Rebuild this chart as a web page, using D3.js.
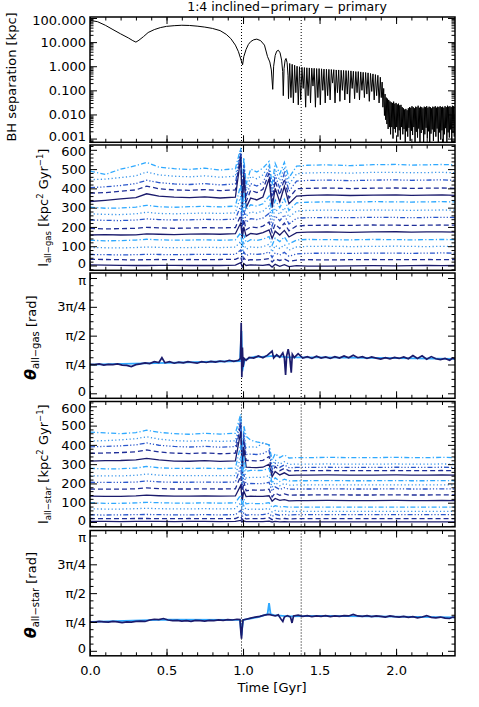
<!DOCTYPE html>
<html>
<head>
<meta charset="utf-8">
<script src="https://cdn.jsdelivr.net/npm/d3@7"></script>
<style>
  body { margin: 0; background: #fff; }
  svg text { font-family: "DejaVu Sans", sans-serif; fill: #000; }
</style>
</head>
<body>
<svg width="479" height="707"></svg>
<script>
// ---- data ----
const title = '1:4 inclined\u2212primary \u2212 primary';
const timeDomain = [0, 2.385];
const timeTicks = [0, 0.5, 1.0, 1.5, 2.0];
const eventTimes = [0.99, 1.38];

// BH separation [kpc] as [time Gyr, kpc]
const sepApproach = [[0,80],[0.05,70],[0.1,50],[0.15,33],[0.2,22],[0.25,15],[0.28,11.5],[0.3,10],[0.32,12],
  [0.35,17],[0.38,25],[0.42,33],[0.46,40],[0.5,45],[0.55,48],[0.6,50],[0.65,49],[0.7,46],[0.75,42],[0.8,37],
  [0.85,30],[0.89,21],[0.92,14],[0.95,7.5],[0.97,4],[0.985,2],[0.997,1.15],[1.005,2.5],[1.02,5],[1.035,8],
  [1.05,10.5],[1.07,12.5],[1.09,13.3],[1.115,11.5],[1.14,7.5],[1.16,2.5],[1.175,1.5],[1.185,0.7],[1.194,0.11],
  [1.2,1.0],[1.21,2.8],[1.22,4.2],[1.231,4.6],[1.242,3.6],[1.252,1.8],[1.259,0.6],[1.263,0.06],[1.268,0.8],
  [1.275,1.8],[1.281,2.1],[1.288,1.4],[1.294,0.4],[1.297,0.045]];
const sepOrbits = [[1.305,1.3],[1.313,0.05],[1.321,1.2],[1.329,0.03],[1.337,1.1],[1.345,0.08],[1.353,1.0],
  [1.361,0.025],[1.369,0.95],[1.377,0.04],[1.385,0.9],[1.393,0.12],[1.401,0.88],[1.409,0.02],[1.417,0.86],
  [1.425,0.06],[1.433,0.85],[1.441,0.03],[1.449,0.83],[1.457,0.15],[1.465,0.82],[1.473,0.02],[1.481,0.8],
  [1.489,0.05],[1.497,0.8],[1.505,0.025],[1.513,0.78],[1.521,0.1],[1.529,0.76],[1.537,0.03],[1.545,0.75],
  [1.553,0.06],[1.561,0.74],[1.569,0.04],[1.577,0.73],[1.585,0.2],[1.593,0.72],[1.601,0.03],[1.609,0.7],
  [1.617,0.08],[1.625,0.7],[1.633,0.035],[1.641,0.68],[1.649,0.1],[1.657,0.67],[1.665,0.04],[1.673,0.66],
  [1.681,0.07],[1.689,0.65],[1.697,0.03],[1.705,0.64],[1.713,0.12],[1.721,0.62],[1.729,0.045],[1.737,0.6],
  [1.745,0.08],[1.753,0.6],[1.761,0.04],[1.769,0.58],[1.777,0.1],[1.785,0.56],[1.793,0.05],[1.801,0.55],
  [1.809,0.07],[1.817,0.53],[1.825,0.035],[1.833,0.5],[1.841,0.09],[1.849,0.48],[1.857,0.04],[1.865,0.45],
  [1.873,0.06],[1.881,0.42],[1.889,0.03],[1.897,0.35],[1.903,0.05],[1.909,0.22],[1.914,0.02],[1.919,0.12]];
const sepBand = [[1.924,0.009],[1.928,0.07],[1.932,0.006],[1.936,0.05],[1.94,0.004],[1.944,0.045],[1.948,0.0025],
  [1.952,0.04],[1.956,0.003],[1.96,0.035],[1.964,0.0015],[1.968,0.032],[1.972,0.003],[1.976,0.03],[1.98,0.001],
  [1.984,0.034],[1.988,0.0025],[1.992,0.028],[1.996,0.0018],[2.0,0.03],[2.004,0.003],[2.008,0.026],[2.012,0.0012],
  [2.016,0.028],[2.02,0.0022],[2.024,0.024],[2.028,0.0009],[2.032,0.025],[2.036,0.003],[2.04,0.02],[2.044,0.0015],
  [2.048,0.018],[2.052,0.0025],[2.056,0.016],[2.06,0.0006],[2.064,0.017],[2.068,0.002],[2.072,0.015],[2.076,0.0012],
  [2.08,0.018],[2.084,0.0028],[2.088,0.02],[2.092,0.0008],[2.096,0.019],[2.1,0.0021],[2.104,0.022],[2.108,0.0014],
  [2.112,0.02],[2.116,0.003],[2.12,0.018],[2.124,0.0005],[2.128,0.021],[2.132,0.0019],[2.136,0.02],[2.14,0.0011],
  [2.144,0.023],[2.148,0.0026],[2.152,0.019],[2.156,0.0007],[2.16,0.021],[2.164,0.0017],[2.168,0.02],[2.172,0.0023],
  [2.176,0.018],[2.18,0.0006],[2.184,0.021],[2.188,0.0015],[2.192,0.02],[2.196,0.0028],[2.2,0.022],[2.204,0.001],
  [2.208,0.019],[2.212,0.002],[2.216,0.021],[2.22,0.0005],[2.224,0.02],[2.228,0.0016],[2.232,0.018],[2.236,0.0024],
  [2.24,0.021],[2.244,0.0008],[2.248,0.02],[2.252,0.0019],[2.256,0.022],[2.26,0.0012],[2.264,0.019],[2.268,0.0026],
  [2.272,0.021],[2.276,0.0006],[2.28,0.02],[2.284,0.0018],[2.288,0.022],[2.292,0.0009],[2.296,0.02],[2.3,0.0022],
  [2.304,0.021],[2.308,0.0005],[2.312,0.019],[2.316,0.0015],[2.32,0.022],[2.324,0.0027],[2.328,0.02],[2.332,0.0007],
  [2.336,0.023],[2.34,0.0018],[2.344,0.021],[2.348,0.0011],[2.352,0.022],[2.356,0.0024],[2.36,0.02],[2.364,0.0006],
  [2.368,0.023],[2.372,0.0017],[2.376,0.022],[2.38,0.0012],[2.385,0.021]];

// angular momentum curves share one time grid [Gyr]
const lTime = [0,0.1,0.2,0.3,0.37,0.45,0.55,0.65,0.75,0.85,0.95,
  0.985,0.995,1.005,1.02,1.05,1.09,1.13,1.17,1.19,1.21,1.24,1.27,1.3,1.35,1.42,1.55,1.7,1.85,2.0,2.1,2.2,2.3,2.385];

// l_all-gas [kpc^2 Gyr^-1], 15 curves, innermost first
const lGas = [
  [3,2,1,0,0,1,1,0,1,0,2, 15,-8,10,0,3,2,1,5,-8,6,-4,4,-6,-1,-3,-3,-2,-1,-2,-1,0,-1,0],
  [32,31,30,29,30,31,30,31,30,31,32, 45,15,40,25,30,29,31,36,18,34,26,33,22,28,30,29,30,31,30,30,31,30,30],
  [57,56,55,56,58,57,56,57,58,57,58, 80,35,70,52,60,58,60,70,42,66,54,68,48,60,63,64,63,64,64,63,64,65,64],
  [93,92,91,93,96,94,92,93,94,93,95, 125,60,115,85,96,93,97,110,70,104,88,108,80,96,99,100,98,99,100,99,98,99,100],
  [131,128,129,132,136,133,131,132,133,131,133, 170,95,160,120,134,130,136,150,105,142,124,148,112,132,135,134,133,135,134,133,134,135,134],
  [158,160,158,159,164,162,160,163,164,162,165, 220,140,200,152,166,162,170,185,140,178,158,182,148,170,173,174,172,174,175,173,174,174,173],
  [192,190,191,193,198,195,193,194,196,195,197, 260,170,240,185,200,196,204,225,172,215,192,220,180,205,208,209,208,210,209,208,209,210,209],
  [236,234,233,236,242,238,236,237,239,238,240, 310,200,290,225,243,238,246,270,205,258,232,262,215,245,248,249,248,250,249,248,249,250,249],
  [268,265,264,268,276,270,268,270,272,270,273, 360,230,330,255,278,272,282,310,238,296,265,300,250,282,286,287,286,288,287,286,287,288,287],
  [302,297,298,303,312,305,302,305,307,304,308, 420,260,380,290,315,308,320,360,270,340,300,345,285,325,328,330,329,331,330,329,330,331,330],
  [332,338,345,352,372,360,355,352,356,350,354, 560,290,470,300,350,340,355,450,300,400,330,410,320,360,364,366,363,365,366,364,365,366,364],
  [375,378,385,392,412,398,392,390,394,388,392, 580,310,500,330,390,378,395,480,330,440,365,450,350,398,400,402,399,401,402,400,401,402,400],
  [404,408,415,425,442,430,423,420,425,418,423, 595,330,520,360,425,412,430,500,360,470,400,480,385,438,441,443,440,443,444,442,443,444,442],
  [445,448,456,465,485,470,463,460,465,458,463, 605,350,540,390,462,450,470,520,390,500,440,510,420,476,480,482,479,483,483,481,482,483,481],
  [490,472,500,518,535,510,502,498,505,495,502, 610,380,560,420,500,485,505,540,420,530,475,535,455,515,520,522,518,523,524,521,522,524,522]
];

// l_all-star [kpc^2 Gyr^-1], 15 curves, innermost first
const lStar = [
  [3,3,2,3,3,3,2,3,3,2,3, 8,0,5,2,2,2,2,4,0,3,1,2,1,1,1,1,1,1,1,1,1,1,1],
  [18,17,17,18,18,17,17,18,17,17,18, 30,10,25,16,18,17,17,22,12,19,16,18,16,17,17,17,17,17,17,17,17,17,17],
  [37,36,37,38,39,38,37,37,38,37,38, 60,25,50,35,38,37,38,45,28,40,35,39,36,38,38,38,38,38,38,38,38,38,38],
  [68,67,67,69,71,69,68,68,69,68,69, 100,50,85,64,67,66,66,70,52,60,55,57,54,55,55,55,55,55,55,55,55,55,55],
  [99,97,97,99,102,100,98,98,99,98,99, 140,75,120,94,97,95,95,100,75,85,78,80,77,77,77,77,77,77,77,77,77,77,77],
  [134,133,133,135,139,136,134,134,135,134,135, 190,112,160,132,134,133,133,136,108,122,112,116,110,111,111,112,111,111,112,111,111,112,111],
  [171,170,170,172,177,173,171,171,172,171,172, 240,140,210,162,166,165,165,170,130,150,138,146,139,140,140,141,140,140,141,140,140,141,140],
  [206,205,205,207,213,208,206,206,207,206,207, 290,170,250,196,200,199,199,206,160,182,168,178,170,171,171,172,171,171,172,171,171,172,171],
  [240,239,239,242,249,243,240,240,241,240,241, 340,195,290,228,232,231,232,240,180,205,188,200,191,192,192,193,192,192,193,192,192,193,192],
  [278,276,276,280,288,281,278,278,279,277,279, 400,220,340,262,268,267,268,278,200,230,210,222,213,214,214,215,214,214,215,214,214,215,214],
  [316,318,319,322,330,322,316,315,318,314,317, 470,250,390,285,283,282,284,300,235,262,244,255,242,243,243,244,243,243,244,243,243,244,243],
  [356,358,360,364,374,363,357,355,358,354,357, 510,270,430,320,318,317,320,340,255,288,266,278,265,266,266,267,266,266,267,266,266,267,266],
  [390,392,395,400,410,398,392,389,392,388,391, 530,285,460,350,352,350,355,372,272,305,283,296,282,283,283,284,283,283,284,283,283,284,283],
  [420,422,426,432,442,430,422,419,422,418,421, 545,300,480,385,390,388,410,400,290,322,300,313,299,300,300,301,300,300,301,300,300,301,300],
  [466,462,458,464,476,465,458,455,460,456,460, 560,330,500,445,425,415,410,400,320,355,334,348,332,334,334,335,334,334,335,334,334,335,334]
];

// theta [rad] as [time Gyr, rad]
const thetaGas = [[0,0.79],[0.03,0.78],[0.06,0.80],[0.09,0.77],[0.12,0.79],[0.15,0.78],[0.18,0.80],[0.21,0.77],
  [0.24,0.76],[0.27,0.73],[0.30,0.78],[0.33,0.80],[0.36,0.83],[0.39,0.81],[0.42,0.86],[0.45,0.84],[0.47,0.97],
  [0.49,0.83],[0.52,0.86],[0.55,0.82],[0.58,0.85],[0.61,0.83],[0.64,0.86],[0.67,0.84],[0.70,0.82],[0.73,0.86],
  [0.76,0.84],[0.79,0.87],[0.82,0.85],[0.85,0.88],[0.88,0.86],[0.91,0.90],[0.94,0.87],[0.97,0.9],[0.983,0.95],
  [0.988,1.92],[0.992,0.44],[0.996,1.25],[1.0,0.72],[1.008,0.95],[1.02,0.9],[1.04,0.98],[1.07,0.96],[1.1,1.02],
  [1.13,0.97],[1.16,1.04],[1.19,1.15],[1.2,0.96],[1.22,1.05],[1.24,0.98],[1.26,1.1],[1.27,0.96],[1.278,0.5],
  [1.285,1.02],[1.295,1.2],[1.305,0.98],[1.315,0.56],[1.322,1.06],[1.335,0.97],[1.36,1.08],[1.39,0.96],[1.42,1.0],
  [1.45,0.95],[1.48,1.01],[1.51,0.96],[1.54,0.99],[1.57,0.95],[1.6,1.0],[1.63,0.96],[1.66,1.02],[1.69,0.97],
  [1.72,1.04],[1.75,0.97],[1.78,1.0],[1.81,0.95],[1.84,0.99],[1.87,0.96],[1.9,0.93],[1.93,0.97],[1.96,0.94],
  [1.99,0.98],[2.02,0.95],[2.05,0.99],[2.08,0.94],[2.11,1.03],[2.14,0.95],[2.17,1.02],[2.2,0.93],[2.23,1.0],
  [2.26,0.94],[2.29,0.92],[2.32,0.95],[2.35,0.9],[2.37,0.96],[2.385,0.93]];
const thetaGasOuter = [[0,0.78],[0.5,0.83],[0.98,0.88],[0.99,1.7],[0.995,0.6],[1.01,0.9],[1.04,0.96],[1.08,1.0],
  [1.12,0.99],[1.2,1.02],[1.3,0.98],[1.5,0.98],[2.0,0.96],[2.385,0.94]];
const thetaStar = [[0,0.79],[0.03,0.78],[0.06,0.80],[0.09,0.79],[0.12,0.78],[0.15,0.80],[0.18,0.79],[0.21,0.77],
  [0.24,0.79],[0.27,0.78],[0.30,0.80],[0.33,0.81],[0.36,0.80],[0.39,0.84],[0.42,0.86],[0.45,0.85],[0.48,0.88],
  [0.51,0.84],[0.54,0.82],[0.57,0.83],[0.60,0.81],[0.63,0.82],[0.66,0.80],[0.69,0.83],[0.72,0.82],[0.75,0.81],
  [0.78,0.83],[0.81,0.82],[0.84,0.84],[0.87,0.83],[0.9,0.85],[0.93,0.84],[0.96,0.86],[0.98,0.85],[0.986,0.5],
  [0.99,0.33],[0.994,0.6],[1.0,0.84],[1.02,0.86],[1.05,0.89],[1.08,0.92],[1.11,0.94],[1.14,0.97],[1.17,0.99],
  [1.19,0.97],[1.21,0.95],[1.23,0.98],[1.25,0.85],[1.26,0.8],[1.27,0.92],[1.29,0.96],[1.31,0.92],[1.32,0.76],
  [1.33,0.95],[1.36,0.97],[1.39,0.94],[1.42,0.96],[1.45,0.93],[1.48,0.95],[1.51,0.94],[1.54,0.96],[1.57,0.93],
  [1.6,0.95],[1.63,0.94],[1.66,0.96],[1.69,0.95],[1.72,0.99],[1.75,0.95],[1.78,0.94],[1.81,0.96],[1.84,0.93],
  [1.87,0.95],[1.9,0.94],[1.93,0.92],[1.96,0.95],[1.99,0.93],[2.02,0.92],[2.05,0.94],[2.08,0.91],[2.11,0.93],
  [2.14,0.9],[2.17,0.92],[2.2,0.96],[2.23,0.91],[2.26,0.9],[2.29,0.92],[2.32,0.89],[2.35,0.88],[2.37,0.92],[2.385,0.91]];
const thetaStarOuter = [[0,0.79],[0.5,0.85],[0.98,0.84],[0.99,0.42],[1.0,0.84],[1.1,0.92],[1.16,1.0],[1.17,1.3],
  [1.18,1.0],[1.2,0.97],[1.3,0.94],[1.5,0.95],[2.0,0.93],[2.385,0.91]];

const sepTicks = [0.001, 0.01, 0.1, 1, 10, 100];
const lTicks = [0, 100, 200, 300, 400, 500, 600];
const thetaTicks = [0, Math.PI / 4, Math.PI / 2, 3 * Math.PI / 4, Math.PI];
const thetaLabels = ['0', '\u03c0/4', '\u03c0/2', '3\u03c0/4', '\u03c0'];

// ---- layout ----
const svg = d3.select('svg');
const left = 90, right = 455;
const panelTop = [17, 145, 273, 401.5, 530.5];
const panelH = 125.3;
const fontSize = 13;

const lineColors = ['#1b1b6c', '#1f2e98', '#2b57cc', '#3593ea', '#2fa9ff'];
const lineDash = [null, '5,3', '5,2,1.2,2,1.2,2,1.2,2', '1.2,2.4', '5,2.2,1.2,2.2'];

const x = d3.scaleLinear().domain(timeDomain).range([left, right]);
const minorTime = d3.range(0, 2.381, 0.1);

const yScales = [
  d3.scaleLog().domain([0.0007, 110]),
  d3.scaleLinear().domain([-25, 625]),
  d3.scaleLinear().domain([-0.136, Math.PI + 0.136]),
  d3.scaleLinear().domain([-25, 625]),
  d3.scaleLinear().domain([-0.136, Math.PI + 0.136])
];
yScales.forEach((s, i) => s.range([panelTop[i] + panelH, panelTop[i]]));

const defs = svg.append('defs');
panelTop.forEach((t, i) => {
  defs.append('clipPath').attr('id', 'clip' + i)
    .append('rect').attr('x', left).attr('y', t).attr('width', right - left).attr('height', panelH);
});

function addAxis(g, axis, tx, ty) {
  const a = g.append('g').attr('transform', `translate(${tx},${ty})`).call(axis);
  a.select('.domain').remove();
  a.selectAll('line').attr('stroke', '#000').attr('stroke-width', 1);
  a.selectAll('text').attr('font-size', fontSize).attr('font-family', '"DejaVu Sans", sans-serif').attr('fill', '#000');
  return a;
}

function drawFrame(i, majors, fmt, minors) {
  const y = yScales[i], top = panelTop[i], bot = top + panelH;
  const g = svg.append('g');
  const last = i === panelTop.length - 1;
  addAxis(g, d3.axisBottom(x).tickValues(timeTicks).tickSize(-7).tickPadding(10)
    .tickFormat(last ? d3.format('.1f') : ''), 0, bot);
  addAxis(g, d3.axisBottom(x).tickValues(minorTime).tickSize(-3.5).tickFormat(''), 0, bot);
  addAxis(g, d3.axisTop(x).tickValues(timeTicks).tickSize(-7).tickFormat(''), 0, top);
  addAxis(g, d3.axisTop(x).tickValues(minorTime).tickSize(-3.5).tickFormat(''), 0, top);
  const ya = addAxis(g, d3.axisLeft(y).tickValues(majors).tickSize(-7).tickPadding(4).tickFormat(fmt), left, 0);
  // keep end labels of neighbouring panels apart, as in the original
  const labels = ya.selectAll('text').nodes();
  d3.select(labels[0]).attr('y', i === 0 ? -2.5 : -2);
  d3.select(labels[labels.length - 1]).attr('y', 2);
  addAxis(g, d3.axisLeft(y).tickValues(minors).tickSize(-3.5).tickFormat(''), left, 0);
  addAxis(g, d3.axisRight(y).tickValues(majors).tickSize(-7).tickFormat(''), right, 0);
  addAxis(g, d3.axisRight(y).tickValues(minors).tickSize(-3.5).tickFormat(''), right, 0);
  g.append('rect').attr('x', left).attr('y', top).attr('width', right - left).attr('height', panelH)
    .attr('fill', 'none').attr('stroke', '#000').attr('stroke-width', 1.5);
}

function drawEvents(i) {
  const top = panelTop[i], bot = top + panelH;
  svg.append('g').selectAll('line').data(eventTimes).join('line')
    .attr('x1', d => x(d)).attr('x2', d => x(d)).attr('y1', top).attr('y2', bot)
    .attr('stroke', '#000').attr('stroke-width', 1).attr('stroke-dasharray', '1,2');
}

function pairLine(i) {
  return d3.line().x(d => x(d[0])).y(d => yScales[i](d[1]));
}

// panel 0: BH separation
const sep = sepApproach.concat(sepOrbits, sepBand);
drawEvents(0);
svg.append('path').datum(sep).attr('clip-path', 'url(#clip0)')
  .attr('d', pairLine(0)).attr('fill', 'none').attr('stroke', '#000').attr('stroke-width', 1);
const logMinor = [];
[0.0001, 0.001, 0.01, 0.1, 1, 10, 100].forEach(dec => d3.range(2, 10).forEach(k => {
  const v = dec * k; if (v > 0.0007 && v < 110) logMinor.push(v);
}));
drawFrame(0, sepTicks, d3.format('.3f'), logMinor);

// panels 1 & 3: angular momentum
function drawL(i, curves) {
  drawEvents(i);
  const g = svg.append('g').attr('clip-path', `url(#clip${i})`);
  const line = d3.line().x((d, k) => x(lTime[k])).y(d => yScales[i](d));
  curves.slice().reverse().forEach((vals, r) => {
    const idx = curves.length - 1 - r;
    const s = idx % 5;
    g.append('path').datum(vals).attr('d', line).attr('fill', 'none')
      .attr('stroke', lineColors[s]).attr('stroke-width', 1.3)
      .attr('stroke-dasharray', lineDash[s]);
  });
  drawFrame(i, lTicks, d3.format('d'), d3.range(-20, 621, 20).filter(v => v % 100 !== 0));
}
drawL(1, lGas);
drawL(3, lStar);

// panels 2 & 4: theta
function drawTheta(i, outer, inner) {
  drawEvents(i);
  const g = svg.append('g').attr('clip-path', `url(#clip${i})`);
  g.append('path').datum(outer).attr('d', pairLine(i)).attr('fill', 'none')
    .attr('stroke', lineColors[4]).attr('stroke-width', 1.8);
  g.append('path').datum(inner).attr('d', pairLine(i)).attr('fill', 'none')
    .attr('stroke', lineColors[0]).attr('stroke-width', 1.7);
  const minors = d3.range(0, 17).map(k => k * Math.PI / 16).filter((v, k) => k % 4 !== 0);
  drawFrame(i, thetaTicks, (d, k) => thetaLabels[k], minors);
}
drawTheta(2, thetaGasOuter, thetaGas);
drawTheta(4, thetaStarOuter, thetaStar);

// ---- titles ----
svg.append('text').attr('x', 287).attr('y', 11).attr('text-anchor', 'middle')
  .attr('font-size', 12.5).text(title);
svg.append('text').attr('x', 272).attr('y', 692).attr('text-anchor', 'middle')
  .attr('font-size', fontSize).text('Time [Gyr]');

function yTitle(xPos, yCenter, parts, subSize) {
  const t = svg.append('text').attr('transform', `translate(${xPos},${yCenter}) rotate(-90)`)
    .attr('text-anchor', 'middle').attr('font-size', fontSize);
  let shift = 0;
  parts.forEach(([str, kind]) => {
    const target = kind === 'sub' ? 3 : kind === 'sup' ? -5 : 0;
    const ts = t.append('tspan').attr('dy', target - shift).text(str);
    shift = target;
    if (kind === 'sub' || kind === 'sup') ts.attr('font-size', subSize);
    if (kind === 'greek') ts.attr('font-style', 'italic').attr('font-weight', 'bold').attr('font-size', 16);
  });
}
const mid = i => panelTop[i] + panelH / 2;
yTitle(16, 77, [['BH separation [kpc]', 'n']], 8.5);
yTitle(48, mid(1), [['l', 'n'], ['all\u2212gas', 'sub'], [' [kpc', 'n'], ['2', 'sup'], [' Gyr', 'n'], ['\u22121', 'sup'], [']', 'n']], 8.5);
yTitle(36, mid(2) + 2, [['\u03b8', 'greek'], ['all\u2212gas', 'sub'], ['  [rad]', 'n']], 10);
yTitle(48, mid(3), [['l', 'n'], ['all\u2212star', 'sub'], [' [kpc', 'n'], ['2', 'sup'], [' Gyr', 'n'], ['\u22121', 'sup'], [']', 'n']], 8.5);
yTitle(36, mid(4) + 2, [['\u03b8', 'greek'], ['all\u2212star', 'sub'], ['  [rad]', 'n']], 10);
</script>
</body>
</html>
